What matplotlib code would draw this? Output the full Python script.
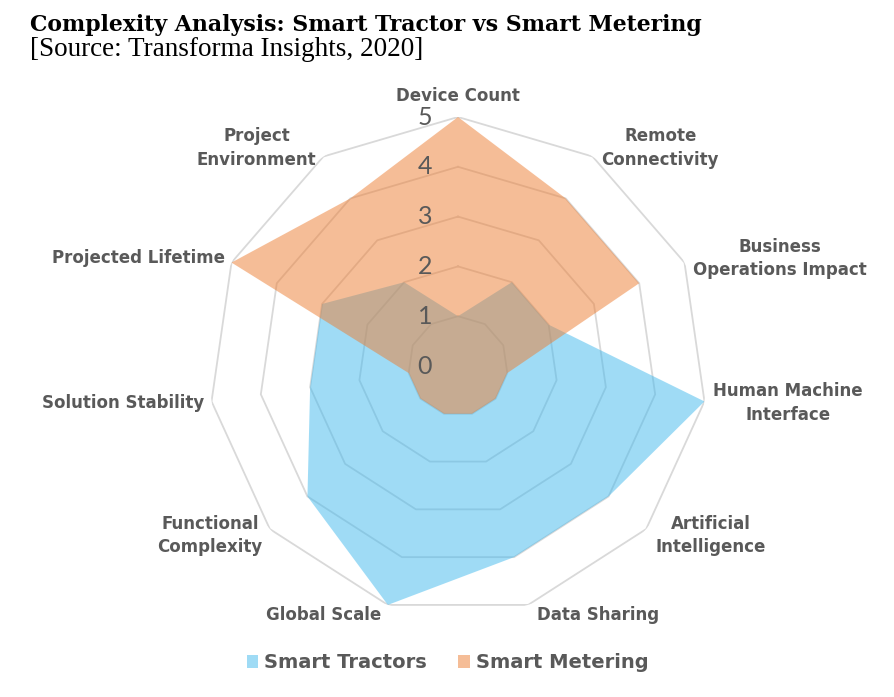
import numpy as np
import matplotlib
matplotlib.use("Agg")
from matplotlib import pyplot as plt
from matplotlib.patches import Patch

categories = [
    "Device Count", "Remote\nConnectivity", "Business\nOperations Impact",
    "Human Machine\nInterface", "Artificial\nIntelligence", "Data Sharing",
    "Global Scale", "Functional\nComplexity", "Solution Stability",
    "Projected Lifetime", "Project\nEnvironment",
]
smart_tractors = [1, 2, 2, 5, 4, 4, 5, 4, 3, 3, 2]
smart_metering = [5, 4, 4, 1, 1, 1, 1, 1, 1, 5, 4]
radial_ticks = [0, 1, 2, 3, 4, 5]

BLUE = "#41B9ED"
ORANGE = "#ED7D31"
GRID = "#D9D9D9"
TEXT = "#595959"

W, H = 895, 697
fig = plt.figure(figsize=(W / 100, H / 100), dpi=100)

# axes placed so the centre sits at (458, 366) px with a 249 px radius
cx, cy, rad = 458, 366, 249
ax = fig.add_axes([(cx - rad) / W, (H - cy - rad) / H, 2 * rad / W, 2 * rad / H],
                  projection="polar")
ax.set_theta_offset(np.pi / 2)
ax.set_theta_direction(-1)
ax.set_ylim(0, 5)
ax.grid(False)
ax.spines["polar"].set_visible(False)
ax.set_xticks([])
ax.set_yticks([])
ax.patch.set_alpha(0)

n = len(categories)
theta = np.linspace(0, 2 * np.pi, n, endpoint=False)
theta_c = np.append(theta, theta[0])

# polygon gridlines
for r in radial_ticks[1:]:
    ax.plot(theta_c, [r] * (n + 1), color=GRID, lw=1.3, zorder=1)

ax.fill(theta_c, smart_tractors + smart_tractors[:1], color=BLUE, alpha=0.5,
        lw=0, zorder=2)
ax.fill(theta_c, smart_metering + smart_metering[:1], color=ORANGE, alpha=0.5,
        lw=0, zorder=3)

# radial tick labels
for r in radial_ticks:
    ax.annotate(str(r), xy=(0, r), xytext=(-26, 0), textcoords="offset pixels",
                ha="right", va="center", fontsize=18, family="Lato",
                color=TEXT, zorder=5, annotation_clip=False)

# category labels
for t, lab in zip(theta, categories):
    s, c = np.sin(t), np.cos(t)
    if abs(s) < 0.1:
        ax.annotate(lab, xy=(t, 5), xytext=(0, 12), textcoords="offset pixels",
                    ha="center", va="bottom", fontsize=12, fontweight="bold",
                    color=TEXT, annotation_clip=False)
        continue
    ha = "left" if s > 0 else "right"
    dx = 9 if s > 0 else -7
    ax.annotate(lab, xy=(t, 5), xytext=(dx, 10 * c), textcoords="offset pixels",
                ha=ha, va="center", multialignment="center", fontsize=12,
                fontweight="bold", color=TEXT, linespacing=1.4,
                annotation_clip=False)

fig.text(30 / W, 1 - 31 / H, "Complexity Analysis: Smart Tractor vs Smart Metering",
         family="DejaVu Serif", fontweight="bold", fontsize=15.8, color="black",
         va="baseline", ha="left")
fig.text(30 / W, 1 - 56 / H, "[Source: Transforma Insights, 2020]",
         family="Liberation Serif", fontsize=19.5, color="black",
         va="baseline", ha="left")

handles = [Patch(facecolor=BLUE, alpha=0.5, lw=0, label="Smart Tractors"),
           Patch(facecolor=ORANGE, alpha=0.5, lw=0, label="Smart Metering")]
fig.legend(handles=handles, loc="center", bbox_to_anchor=(0.5, 1 - 663 / H),
           ncol=2, frameon=False, handlelength=0.6, handleheight=0.6,
           handletextpad=0.3, columnspacing=1.6, labelcolor=TEXT,
           prop={"size": 14, "weight": "bold"})

fig.savefig("out.png", dpi=100)
